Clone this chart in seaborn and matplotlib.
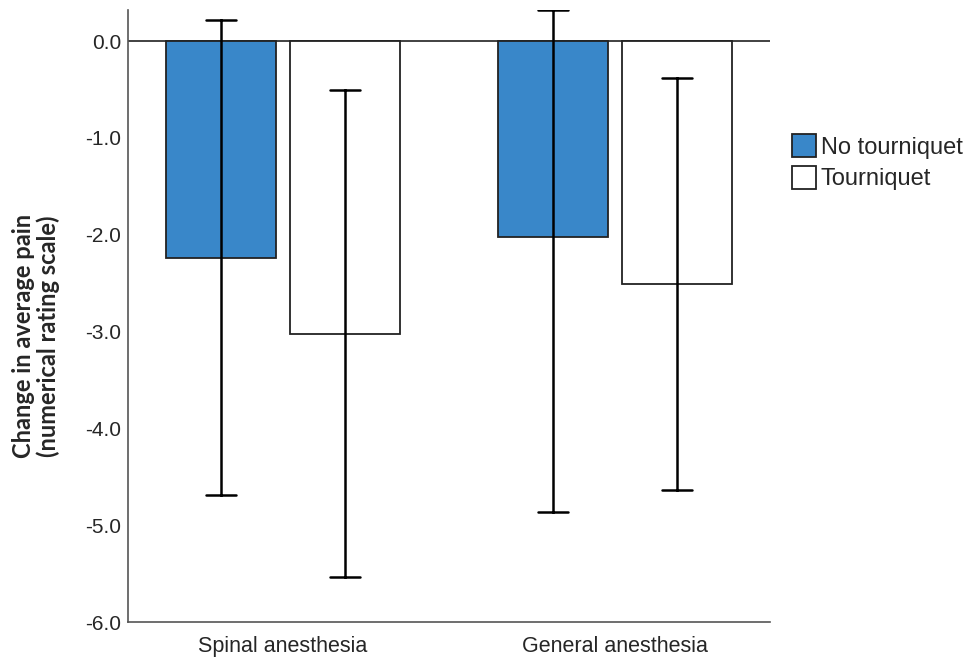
import numpy as np
import pandas as pd
import matplotlib.pyplot as plt
import seaborn as sns

# values
anesthesia = ['Spinal anesthesia', 'Spinal anesthesia', 'General anesthesia', 'General anesthesia']
tourniquet = ['No tourniquet', 'Tourniquet', 'No tourniquet', 'Tourniquet']
mean_change = [-2.24, -3.03, -2.02, -2.51]
ci_low = [-4.69, -5.54, -4.86, -4.64]
ci_high = [0.22, -0.51, 0.32, -0.38]

yticks = [0.0, -1.0, -2.0, -3.0, -4.0, -5.0, -6.0]

# long table: one row each for lower bound, mean and upper bound
rows = []
for a, t, m, lo, hi in zip(anesthesia, tourniquet, mean_change, ci_low, ci_high):
    for v in (lo, m, hi):
        rows.append({'anesthesia': a, 'tourniquet': t, 'change': v})
df = pd.DataFrame(rows)

sns.set_style('white')
plt.rcParams['font.family'] = ['Liberation Sans', 'DejaVu Sans']
plt.rcParams['axes.unicode_minus'] = False

fig = plt.figure(figsize=(9.69, 6.58), dpi=100)
ax = fig.add_axes([0.132, 0.0547, 0.663, 0.930])

sns.barplot(data=df, x='anesthesia', y='change', hue='tourniquet',
            estimator='median', errorbar=lambda v: (v.min(), v.max()),
            palette={'No tourniquet': '#3987c9', 'Tourniquet': 'white'},
            saturation=1, edgecolor='#222222', linewidth=1.3,
            width=0.744, gap=0.11, capsize=0.18,
            err_kws={'color': 'black', 'linewidth': 1.8},
            ax=ax)

ax.axhline(0, color='#333333', linewidth=1.3, zorder=0.5)
ax.set_ylim(-6.0, 0.32)
ax.set_xlim(-0.467, 1.467)
ax.set_yticks(yticks)
ax.set_yticklabels([f'{v:.1f}' for v in yticks])
ax.tick_params(axis='y', length=0, labelsize=15, pad=5)
ax.tick_params(axis='x', length=0, labelsize=15.5, pad=10)
ax.set_xlabel('')
ax.set_ylabel('Change in average pain\n(numerical rating scale)',
              fontsize=17, fontweight='bold', family=['Lato', 'DejaVu Sans'],
              linespacing=1.05)
ax.yaxis.set_label_coords(-0.106, 0.467)

for s in ['top', 'right']:
    ax.spines[s].set_visible(False)
for s in ['left', 'bottom']:
    ax.spines[s].set_color('#555555')
    ax.spines[s].set_linewidth(1.2)

handles, labels = ax.get_legend_handles_labels()
ax.legend(handles, labels, loc='upper left', bbox_to_anchor=(0.808, 0.81),
          bbox_transform=fig.transFigure, frameon=False, fontsize=17,
          handlelength=1.0, handleheight=1.1, handletextpad=0.2,
          labelspacing=0.3, borderaxespad=0)

fig.savefig('out.png', dpi=100)
